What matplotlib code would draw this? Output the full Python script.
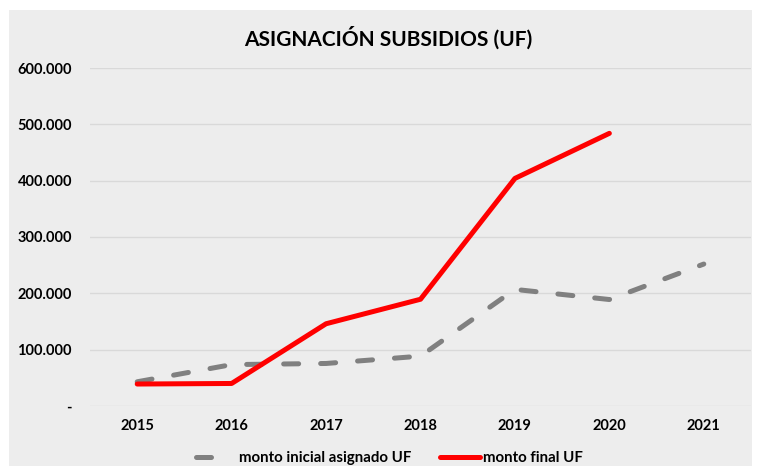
import matplotlib
matplotlib.use("Agg")
import matplotlib.pyplot as plt
from matplotlib.ticker import FuncFormatter
from matplotlib.patches import Rectangle
from matplotlib.lines import Line2D

years = ["2015", "2016", "2017", "2018", "2019", "2020", "2021"]
monto_inicial = [43000, 73500, 75500, 88500, 207000, 189000, 252000]
monto_final = [39000, 40000, 146000, 189500, 404000, 484000]

plt.rcParams["font.family"] = ["Lato", "DejaVu Sans"]
plt.rcParams["font.weight"] = "bold"

BG = "#ededed"
GRAY = "#808080"
RED = "#ff0000"

fig = plt.figure(figsize=(7.59, 4.74), dpi=100)
fig.patch.set_facecolor("white")
# grey chart area with white margin around it
fig.add_artist(Rectangle((9 / 759, 8 / 474), 743 / 759, 456 / 474,
                         transform=fig.transFigure, facecolor=BG,
                         edgecolor="none", zorder=-10))

ax = fig.add_axes([90 / 759, 68 / 474, 661 / 759, 338 / 474])
ax.set_facecolor(BG)

x = list(range(len(years)))
ax.plot(x, monto_inicial, color=GRAY, lw=3.6, ls=(0, (3.0, 4.4)),
        solid_capstyle="round", dash_capstyle="round", zorder=3)
ax.plot(x[:len(monto_final)], monto_final, color=RED, lw=3.6,
        solid_capstyle="round", zorder=4)

ax.set_xlim(-0.5, len(years) - 0.5)
ax.set_ylim(0, 600000)
ax.set_yticks(range(0, 600001, 100000))
ax.yaxis.set_major_formatter(FuncFormatter(
    lambda v, p: "-" if v == 0 else f"{int(v):,}".replace(",", ".")))
ax.set_xticks(x)
ax.set_xticklabels(years)

ax.grid(axis="y", color="#d9d9d9", lw=1)
ax.set_axisbelow(True)
for s in ax.spines.values():
    s.set_visible(False)
ax.tick_params(length=0, labelsize=10.5, colors="black")
ax.tick_params(axis="y", pad=13)
ax.tick_params(axis="x", pad=9)

fig.text(388 / 759, 1 - 38 / 474, "ASIGNACIÓN SUBSIDIOS (UF)", ha="center",
         va="center", fontsize=15, fontweight="bold")

# legend proxies: the grey one shows a single dash like the original
handles = [
    Line2D([], [], color=GRAY, lw=3.6, ls=(0, (3.0, 20)),
           dash_capstyle="round"),
    Line2D([], [], color=RED, lw=3.6, solid_capstyle="round"),
]
labels = ["monto inicial asignado UF", "monto final UF"]
ax.legend(handles, labels, loc="center", bbox_to_anchor=(0.453, -0.155),
          ncol=2, frameon=False, fontsize=10.8, handlelength=2.7,
          columnspacing=1.9, handletextpad=0.2)

fig.savefig("out.png", dpi=100, facecolor="white")
